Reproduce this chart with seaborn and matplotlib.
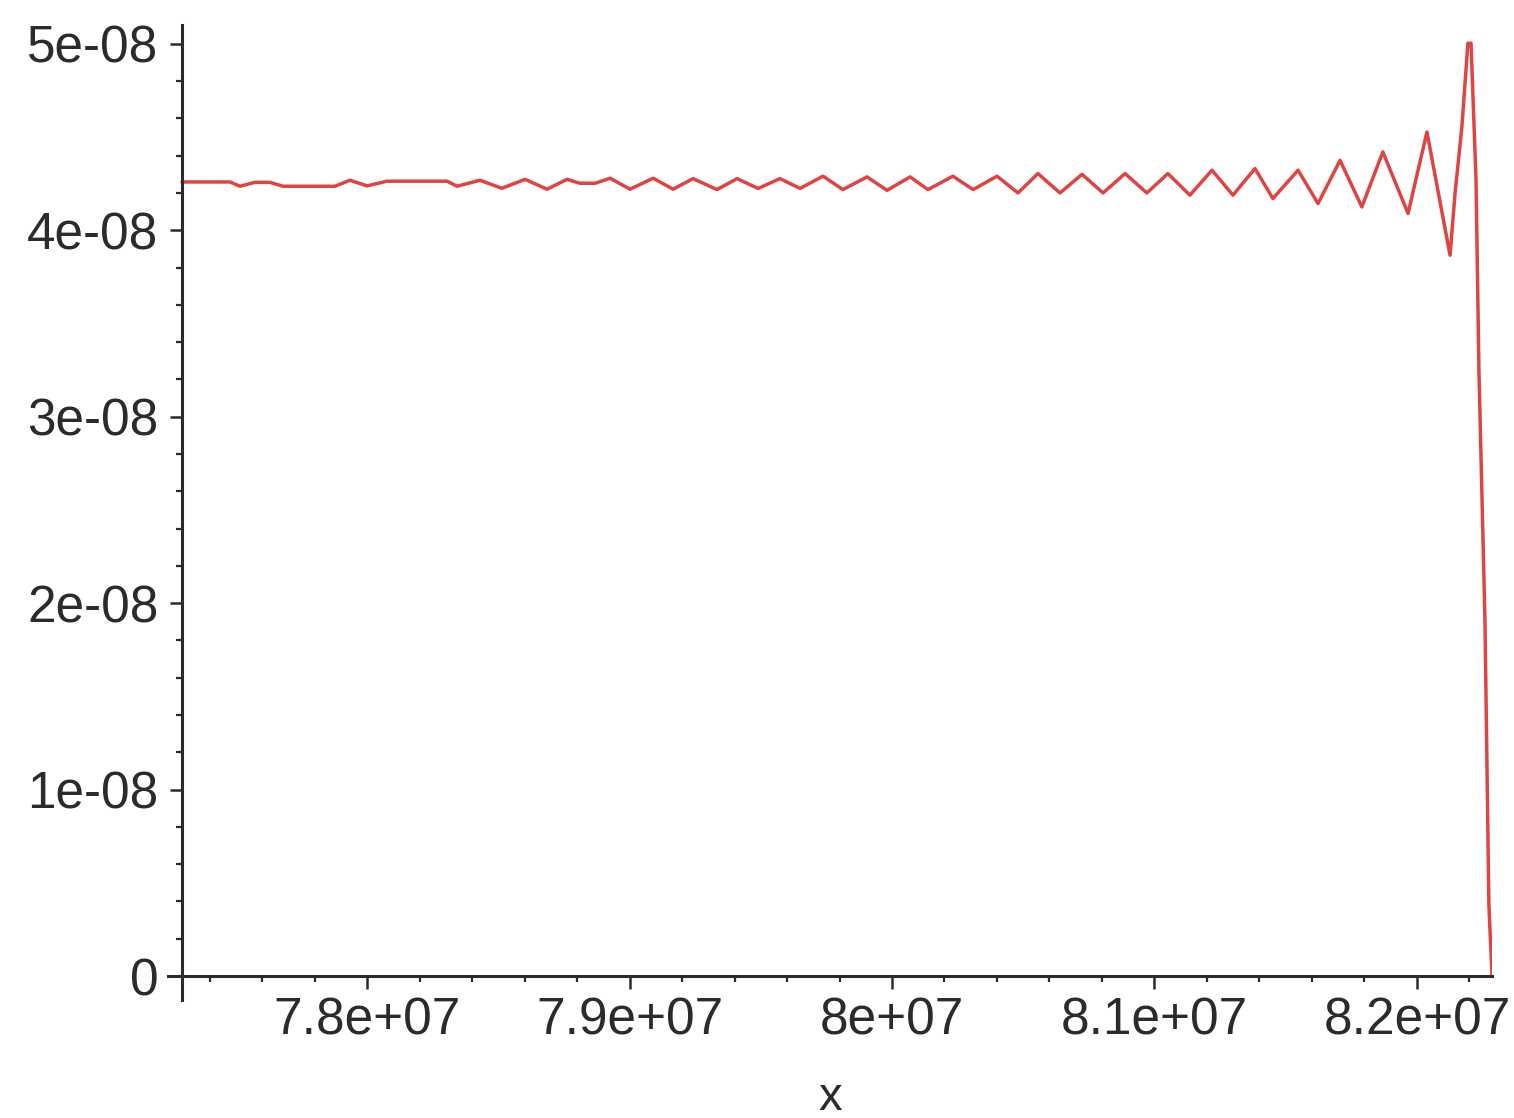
import numpy as np
import pandas as pd
import seaborn as sns
import matplotlib.pyplot as plt
from matplotlib.ticker import FixedLocator, FixedFormatter, MultipleLocator

# curve (x in units of 1e7, y in units of 1e-8)
x_e7 = [7.7295, 7.7478, 7.7516, 7.7573, 7.7630, 7.7680, 7.7878, 7.7935,
        7.8000, 7.8076, 7.8305, 7.8343, 7.8430, 7.8514, 7.8602, 7.8686,
        7.8762, 7.8811, 7.8869, 7.8926, 7.9002, 7.9090, 7.9166, 7.9242,
        7.9333, 7.9410, 7.9490, 7.9573, 7.9650, 7.9737, 7.9813, 7.9905,
        7.9981, 8.0069, 8.0137, 8.0232, 8.0309, 8.0400, 8.0480, 8.0556,
        8.0640, 8.0724, 8.0804, 8.0888, 8.0971, 8.1051, 8.1135, 8.1219,
        8.1299, 8.1383, 8.1451, 8.1547, 8.1623, 8.1707, 8.1790, 8.1870,
        8.1966, 8.2038, 8.2126, 8.2145, 8.2171, 8.2194, 8.2206, 8.2225,
        8.2236, 8.2259, 8.2274, 8.2286]
y_e8 = [4.259, 4.259, 4.236, 4.257, 4.257, 4.236, 4.236, 4.268,
        4.238, 4.263, 4.263, 4.236, 4.268, 4.225, 4.273, 4.220,
        4.273, 4.252, 4.252, 4.279, 4.220, 4.279, 4.220, 4.277,
        4.218, 4.277, 4.224, 4.277, 4.224, 4.290, 4.218, 4.286,
        4.214, 4.286, 4.218, 4.290, 4.218, 4.290, 4.200, 4.304,
        4.200, 4.300, 4.200, 4.304, 4.200, 4.304, 4.188, 4.322,
        4.188, 4.331, 4.170, 4.322, 4.143, 4.375, 4.125, 4.420,
        4.090, 4.527, 3.866, 4.198, 4.552, 5.003, 5.003, 4.268,
        3.249, 1.909, 0.381, 0.0]

x_ticks = [7.8e7, 7.9e7, 8.0e7, 8.1e7, 8.2e7]
x_labels = ['7.8e+07', '7.9e+07', '8e+07', '8.1e+07', '8.2e+07']
y_ticks = [0, 1e-8, 2e-8, 3e-8, 4e-8, 5e-8]
y_labels = ['0', '1e-08', '2e-08', '3e-08', '4e-08', '5e-08']

df = pd.DataFrame({'x': np.array(x_e7) * 1e7, 'y': np.array(y_e8) * 1e-8})

sns.set_theme(style='white')
plt.rcParams['font.family'] = ['Liberation Sans', 'DejaVu Sans']

ink = '#2b2b2b'
fig = plt.figure(figsize=(15.14, 11.18), dpi=100)
ax = fig.add_axes([0.111, 0.1055, 0.8745, 0.872])

sns.lineplot(data=df, x='x', y='y', sort=False, estimator=None,
             color='#df4443', linewidth=2.5, ax=ax)

ax.set_xlim(7.7242e7, 8.2286e7)
ax.set_ylim(-0.129e-8, 5.1e-8)

# maple-like crossing axes
ax.spines['left'].set_position(('data', 7.7295e7))
ax.spines['bottom'].set_position(('data', 0))
ax.spines['top'].set_visible(False)
ax.spines['right'].set_visible(False)
for s in ('left', 'bottom'):
    ax.spines[s].set_linewidth(2.2)
    ax.spines[s].set_color(ink)

ax.xaxis.set_major_locator(FixedLocator(x_ticks))
ax.xaxis.set_major_formatter(FixedFormatter(x_labels))
ax.yaxis.set_major_locator(FixedLocator(y_ticks))
ax.yaxis.set_major_formatter(FixedFormatter(y_labels))
ax.xaxis.set_minor_locator(MultipleLocator(2e5))
ax.yaxis.set_minor_locator(MultipleLocator(2e-9))

ax.tick_params(which='both', bottom=True, left=True, top=False, right=False)
ax.tick_params(which='major', direction='out', length=9, width=1.8,
               color=ink, labelcolor=ink, labelsize=37)
ax.tick_params(which='minor', direction='out', length=4.5, width=1.6, color=ink)
ax.tick_params(axis='x', which='major', pad=6)
ax.tick_params(axis='y', which='major', pad=8)

ax.set_xlabel('x', fontsize=34, color=ink, labelpad=22)
ax.set_ylabel('')

fig.savefig('out.png', dpi=100, facecolor='white')
